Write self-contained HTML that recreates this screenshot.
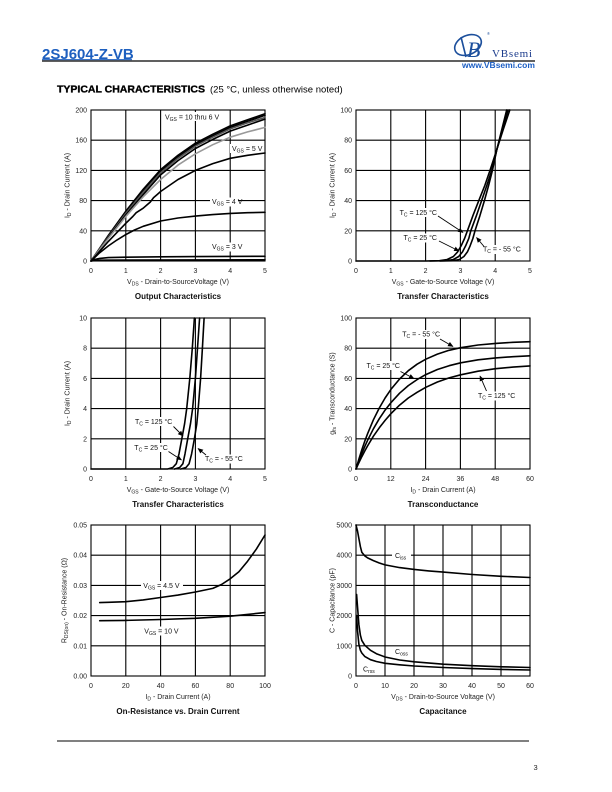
<!DOCTYPE html>
<html><head><meta charset="utf-8"><style>
html,body{margin:0;padding:0;background:#fff;}
svg{display:block;}
.t{font-family:"Liberation Sans",Arial,sans-serif;}
.g{fill:none;stroke:#000;stroke-width:1.1;}
.c{fill:none;stroke:#000;stroke-width:1.6;stroke-linejoin:round;stroke-linecap:round;}
.a{stroke:#000;stroke-width:0.9;fill:none;}
</style></head><body>
<svg width="612" height="792" viewBox="0 0 612 792" xmlns="http://www.w3.org/2000/svg" class="t" font-family="Liberation Sans, Arial, sans-serif">
<defs>
<marker id="ah" markerWidth="6" markerHeight="6" refX="5" refY="3" orient="auto" markerUnits="userSpaceOnUse"><path d="M0,0.6 L5.5,3 L0,5.4 z" fill="#000"/></marker>
</defs>
<rect width="612" height="792" fill="#fff"/>

<!-- Header -->
<text x="42" y="59" font-size="15" font-weight="bold" fill="#1d5fbf">2SJ604-Z-VB</text>
<line x1="42" y1="59.6" x2="132" y2="59.6" stroke="#1d5fbf" stroke-width="1"/>
<line x1="42" y1="61" x2="535" y2="61" stroke="#000" stroke-width="1.2"/>
<!-- logo -->
<ellipse cx="468" cy="45" rx="14" ry="9.5" transform="rotate(-25 468 45)" fill="none" stroke="#1c4f9c" stroke-width="1.6"/>
<line x1="461" y1="37" x2="466" y2="57" stroke="#1c4f9c" stroke-width="1.6"/>
<text x="467" y="57" font-family="Liberation Serif, serif" font-style="italic" font-size="22" fill="#1c4f9c">B</text>
<text x="487" y="35" font-size="4" fill="#1c4f9c">®</text>
<text x="492" y="57" font-family="Liberation Serif, serif" font-size="11" letter-spacing="0.8" fill="#1c3c8c">VBsemi</text>
<text x="462" y="68" font-size="8.5" font-weight="bold" fill="#1d5fc4">www.VBsemi.com</text>

<text x="57" y="92.5" font-size="10.5" font-weight="bold" stroke="#000" stroke-width="0.35" fill="#000">TYPICAL CHARACTERISTICS</text>
<text x="210" y="92.5" font-size="9.5" fill="#000">(25 °C, unless otherwise noted)</text>

<!-- ============ Chart 1: Output Characteristics ============ -->
<rect x="91" y="110" width="174" height="151" class="g" stroke-width="1.2"/>
<path class="g" d="M125.8 110V261M160.6 110V261M195.4 110V261M230.2 110V261M91 140.2H265M91 170.4H265M91 200.6H265M91 230.8H265"/>
<rect x="163" y="112" width="60" height="9" fill="#fff"/>
<rect x="230" y="144" width="34" height="9" fill="#fff"/>
<rect x="210" y="197.5" width="28" height="9" fill="#fff"/>
<rect x="210" y="242.5" width="28" height="9" fill="#fff"/>
<polyline class="c" points="91,261 99.7,248.2 108.4,235.3 125.8,211.2 143.2,189.3 160.6,169.6 178,155.3 195.4,143.2 212.8,134.2 230.2,125.9 247.6,119.8 265,113.8"/>
<polyline class="c" points="91,261 99.7,248.9 108.4,236.1 125.8,212.7 143.2,190.8 160.6,171.2 178,156.8 195.4,144.7 212.8,135.7 230.2,127.4 247.6,121.3 265,115.3"/>
<polyline class="c" stroke="#555" style="stroke:#555" points="91,261 99.7,248.9 108.4,236.8 125.8,213.4 143.2,192.3 160.6,172.7 178,158.3 195.4,146.2 212.8,137.2 230.2,128.9 247.6,122.8 265,117.5"/>
<polyline class="c" points="91,261 99.7,249.7 108.4,237.6 125.8,215.0 143.2,194.6 160.6,174.9 178,160.6 195.4,148.5 212.8,139.4 230.2,131.1 247.6,125.1 265,119.1"/>
<polyline class="c" style="stroke:#999" points="91,261 99.7,249.7 108.4,238.4 125.8,216.5 143.2,196.8 160.6,179.5 178,165.1 195.4,153.8 212.8,144.7 230.2,137.2 247.6,131.9 265,127.4"/>
<polyline class="c" points="91,261 99.7,251.2 108.4,241.4 117.1,232.3 125.8,223.3 132.8,216.5 136.2,212.7 139.7,210.4 143.2,208.2 146.7,205.1 150.2,202.1 153.6,197.6 157.1,194.6 160.6,191.5 178,179.5 195.4,170.4 212.8,163.6 230.2,158.3 247.6,155.3 265,153.0"/>
<polyline class="c" points="91,261 99.7,252.7 108.4,245.9 117.1,239.9 125.8,234.6 134.5,230.0 143.2,226.3 160.6,221.0 178,218.0 195.4,216.1 212.8,214.6 230.2,213.4 247.6,212.7 265,212.3"/>
<polyline class="c" points="91,261 94.5,259.5 99.7,258.4 108.4,257.6 125.8,257.2 160.6,256.8 195.4,256.6 265,256.3"/>
<polyline class="c" points="91,261 98,260.2 125.8,260 265,259.8"/>
<g font-size="7" fill="#111">
<text x="165" y="119.5">V<tspan font-size="5" dy="1.5">GS</tspan><tspan dy="-1.5"> = 10 thru 6 V</tspan></text>
<text x="232" y="150.8">V<tspan font-size="5" dy="1.5">GS</tspan><tspan dy="-1.5"> = 5 V</tspan></text>
<text x="212" y="204.2">V<tspan font-size="5" dy="1.5">GS</tspan><tspan dy="-1.5"> = 4 V</tspan></text>
<text x="212" y="249.2">V<tspan font-size="5" dy="1.5">GS</tspan><tspan dy="-1.5"> = 3 V</tspan></text>
</g>
<g font-size="7" fill="#222" text-anchor="end">
<text x="87" y="112.5">200</text><text x="87" y="142.7">160</text><text x="87" y="172.9">120</text><text x="87" y="203.1">80</text><text x="87" y="233.3">40</text><text x="87" y="263.5">0</text>
</g>
<g font-size="7" fill="#222" text-anchor="middle">
<text x="91" y="273">0</text><text x="125.8" y="273">1</text><text x="160.6" y="273">2</text><text x="195.4" y="273">3</text><text x="230.2" y="273">4</text><text x="265" y="273">5</text>
<text x="178" y="284">V<tspan font-size="5" dy="1.5">DS</tspan><tspan dy="-1.5"> - Drain-to-SourceVoltage (V)</tspan></text>
<text transform="translate(69.5,185.5) rotate(-90)">I<tspan font-size="5" dy="1.5">D</tspan><tspan dy="-1.5"> - Drain Current (A)</tspan></text>
</g>
<text x="178" y="299" font-size="8" font-weight="bold" text-anchor="middle" fill="#111">Output Characteristics</text>

<!-- ============ Chart 2: Transfer Characteristics (0-100A) ============ -->
<rect x="356" y="110" width="174" height="151" class="g" stroke-width="1.2"/>
<path class="g" d="M390.8 110V261M425.6 110V261M460.4 110V261M495.2 110V261M356 140.2H530M356 170.4H530M356 200.6H530M356 230.8H530"/>
<rect x="398" y="208" width="40" height="9" fill="#fff"/>
<rect x="402" y="233.5" width="36" height="9" fill="#fff"/>
<rect x="482" y="245" width="40" height="9" fill="#fff"/>
<polyline class="c" points="356,261 425.6,261 439.5,260.7 447.2,259.5 453.4,256.5 457.6,251.9 461.1,245.9 464.6,238.4 467.4,230.8 472.9,215.7 478.8,200.6 484.8,185.5 490.0,170.4 496.9,149.3 503.2,129.6 509.8,110"/>
<polyline class="c" points="430,261 446.5,260.7 453.4,259.5 458.7,256.5 462.5,251.9 465.6,245.9 468.8,238.4 470.8,230.8 476.4,215.7 481.6,200.6 486.8,185.5 491.7,170.4 496.9,149.3 502.5,129.6 508.1,110"/>
<polyline class="c" points="440,261 453.4,260.7 459.4,259.5 463.9,256.5 467.4,251.9 470.1,245.9 472.9,238.4 475.0,230.8 479.9,215.7 484.4,200.6 488.6,185.5 492.4,170.4 496.9,149.3 501.8,129.6 506.7,110"/>
<line class="a" x1="438" y1="216" x2="463" y2="232.5" marker-end="url(#ah)"/>
<line class="a" x1="439" y1="241" x2="459" y2="251" marker-end="url(#ah)"/>
<line class="a" x1="484" y1="246.5" x2="476.5" y2="237.5" marker-end="url(#ah)"/>
<g font-size="7" fill="#111">
<text x="437" y="214.8" text-anchor="end">T<tspan font-size="5" dy="1.5">C</tspan><tspan dy="-1.5"> = 125 °C</tspan></text>
<text x="437" y="240.2" text-anchor="end">T<tspan font-size="5" dy="1.5">C</tspan><tspan dy="-1.5"> = 25 °C</tspan></text>
<text x="483" y="251.5">T<tspan font-size="5" dy="1.5">C</tspan><tspan dy="-1.5"> = - 55 °C</tspan></text>
</g>
<g font-size="7" fill="#222" text-anchor="end">
<text x="352" y="112.5">100</text><text x="352" y="142.7">80</text><text x="352" y="172.9">60</text><text x="352" y="203.1">40</text><text x="352" y="233.3">20</text><text x="352" y="263.5">0</text>
</g>
<g font-size="7" fill="#222" text-anchor="middle">
<text x="356" y="273">0</text><text x="390.8" y="273">1</text><text x="425.6" y="273">2</text><text x="460.4" y="273">3</text><text x="495.2" y="273">4</text><text x="530" y="273">5</text>
<text x="443" y="284">V<tspan font-size="5" dy="1.5">GS</tspan><tspan dy="-1.5"> - Gate-to-Source Voltage (V)</tspan></text>
<text transform="translate(334.5,185.5) rotate(-90)">I<tspan font-size="5" dy="1.5">D</tspan><tspan dy="-1.5"> - Drain Current (A)</tspan></text>
</g>
<text x="443" y="299" font-size="8" font-weight="bold" text-anchor="middle" fill="#111">Transfer Characteristics</text>

<!-- ============ Chart 3: Transfer Characteristics (0-10A) ============ -->
<rect x="91" y="318" width="174" height="151" class="g" stroke-width="1.2"/>
<path class="g" d="M125.8 318V469M160.6 318V469M195.4 318V469M230.2 318V469M91 348.2H265M91 378.4H265M91 408.6H265M91 438.8H265"/>
<rect x="133" y="417" width="40" height="9" fill="#fff"/>
<rect x="132.5" y="443" width="36" height="9" fill="#fff"/>
<rect x="204" y="454.5" width="40" height="9" fill="#fff"/>
<polyline class="c" points="91,469 167.6,469 172.8,467.5 176.3,463.7 179.0,453.9 181.8,438.8 184.6,423.7 186.7,408.6 189.8,378.4 192.3,348.2 194.4,318"/>
<polyline class="c" points="174.5,469 179.7,467.5 182.9,463.7 185.0,453.9 187.7,438.8 190.5,423.7 192.6,408.6 195.4,378.4 197.5,348.2 199.6,318"/>
<polyline class="c" points="180.8,469 186.0,467.5 189.1,463.7 191.6,453.9 194.4,438.8 196.8,423.7 198.2,408.6 200.6,378.4 202.4,348.2 204.1,318"/>
<line class="a" x1="173.5" y1="426.5" x2="183" y2="436" marker-end="url(#ah)"/>
<line class="a" x1="168.5" y1="451.5" x2="181.5" y2="460" marker-end="url(#ah)"/>
<line class="a" x1="206" y1="455" x2="198" y2="448.5" marker-end="url(#ah)"/>
<g font-size="7" fill="#111">
<text x="135" y="423.8">T<tspan font-size="5" dy="1.5">C</tspan><tspan dy="-1.5"> = 125 °C</tspan></text>
<text x="134.3" y="449.8">T<tspan font-size="5" dy="1.5">C</tspan><tspan dy="-1.5"> = 25 °C</tspan></text>
<text x="205" y="461.2">T<tspan font-size="5" dy="1.5">C</tspan><tspan dy="-1.5"> = - 55 °C</tspan></text>
</g>
<g font-size="7" fill="#222" text-anchor="end">
<text x="87" y="320.5">10</text><text x="87" y="350.7">8</text><text x="87" y="380.9">6</text><text x="87" y="411.1">4</text><text x="87" y="441.3">2</text><text x="87" y="471.5">0</text>
</g>
<g font-size="7" fill="#222" text-anchor="middle">
<text x="91" y="481">0</text><text x="125.8" y="481">1</text><text x="160.6" y="481">2</text><text x="195.4" y="481">3</text><text x="230.2" y="481">4</text><text x="265" y="481">5</text>
<text x="178" y="492">V<tspan font-size="5" dy="1.5">GS</tspan><tspan dy="-1.5"> - Gate-to-Source Voltage (V)</tspan></text>
<text transform="translate(69.5,393.5) rotate(-90)">I<tspan font-size="5" dy="1.5">D</tspan><tspan dy="-1.5"> - Drain Current (A)</tspan></text>
</g>
<text x="178" y="507" font-size="8" font-weight="bold" text-anchor="middle" fill="#111">Transfer Characteristics</text>

<!-- ============ Chart 4: Transconductance ============ -->
<rect x="356" y="318" width="174" height="151" class="g" stroke-width="1.2"/>
<path class="g" d="M390.8 318V469M425.6 318V469M460.4 318V469M495.2 318V469M356 348.2H530M356 378.4H530M356 408.6H530M356 438.8H530"/>
<rect x="401" y="330" width="40" height="9" fill="#fff"/>
<rect x="365" y="361" width="36" height="9" fill="#fff"/>
<rect x="477" y="391.5" width="40" height="9" fill="#fff"/>
<polyline class="c" points="356,469 358.9,459.1 361.8,449.9 364.7,441.4 367.6,433.7 373.4,419.8 379.3,408.0 385.1,398.0 390.9,389.4 399.6,379.0 408.3,370.7 417.1,364.2 425.8,359.2 437.4,354.1 449.1,350.3 460.7,347.7 478.1,345.0 495.6,343.4 513.0,342.3 530,341.7"/>
<polyline class="c" points="356,469 358.9,461.0 361.8,453.6 364.7,446.7 367.6,440.3 373.4,428.8 379.3,418.7 385.1,410.1 390.9,402.7 399.6,393.2 408.3,385.6 417.1,379.6 425.8,374.6 437.4,369.5 449.1,365.7 460.7,362.8 478.1,359.8 495.6,357.9 513.0,356.7 530,355.8"/>
<polyline class="c" points="356,469 358.9,462.7 361.8,456.7 364.7,451.1 367.6,445.9 373.4,436.2 379.3,427.8 385.1,420.4 390.9,413.7 399.6,405.1 408.3,398.0 417.1,392.3 425.8,387.3 437.4,382.0 449.1,377.9 460.7,374.8 478.1,371.2 495.6,368.7 513.0,367.1 530,365.9"/>
<line class="a" x1="440" y1="339" x2="453" y2="346.5" marker-end="url(#ah)"/>
<line class="a" x1="400.5" y1="371.5" x2="414" y2="378.5" marker-end="url(#ah)"/>
<line class="a" x1="486.5" y1="391" x2="480" y2="376" marker-end="url(#ah)"/>
<g font-size="7" fill="#111">
<text x="440" y="336.5" text-anchor="end">T<tspan font-size="5" dy="1.5">C</tspan><tspan dy="-1.5"> = - 55 °C</tspan></text>
<text x="400" y="367.8" text-anchor="end">T<tspan font-size="5" dy="1.5">C</tspan><tspan dy="-1.5"> = 25 °C</tspan></text>
<text x="478" y="397.8">T<tspan font-size="5" dy="1.5">C</tspan><tspan dy="-1.5"> = 125 °C</tspan></text>
</g>
<g font-size="7" fill="#222" text-anchor="end">
<text x="352" y="320.5">100</text><text x="352" y="350.7">80</text><text x="352" y="380.9">60</text><text x="352" y="411.1">40</text><text x="352" y="441.3">20</text><text x="352" y="471.5">0</text>
</g>
<g font-size="7" fill="#222" text-anchor="middle">
<text x="356" y="481">0</text><text x="390.8" y="481">12</text><text x="425.6" y="481">24</text><text x="460.4" y="481">36</text><text x="495.2" y="481">48</text><text x="530" y="481">60</text>
<text x="443" y="492">I<tspan font-size="5" dy="1.5">D</tspan><tspan dy="-1.5"> - Drain Current (A)</tspan></text>
<text transform="translate(334.5,393.5) rotate(-90)">g<tspan font-size="5" dy="1.5">fs</tspan><tspan dy="-1.5"> - Transconductance (S)</tspan></text>
</g>
<text x="443" y="507" font-size="8" font-weight="bold" text-anchor="middle" fill="#111">Transconductance</text>

<!-- ============ Chart 5: On-Resistance ============ -->
<rect x="91" y="525" width="174" height="151" class="g" stroke-width="1.2"/>
<path class="g" d="M125.8 525V676M160.6 525V676M195.4 525V676M230.2 525V676M91 555.2H265M91 585.4H265M91 615.6H265M91 645.8H265"/>
<rect x="141" y="581" width="42" height="9" fill="#fff"/>
<rect x="142" y="626.5" width="39" height="9" fill="#fff"/>
<polyline class="c" points="99.7,602.6 108.4,602.3 125.8,601.7 143.2,599.9 160.6,597.5 178,595.1 195.4,592.0 212.8,588.4 221.5,584.5 230.2,578.8 238.9,571.8 247.6,561.2 256.3,549.2 265,535.0"/>
<polyline class="c" points="99.7,620.7 125.8,620.4 160.6,619.5 195.4,618.3 230.2,616.2 265,612.6"/>
<g font-size="7" fill="#111">
<text x="143.3" y="588.2">V<tspan font-size="5" dy="1.5">GS</tspan><tspan dy="-1.5"> = 4.5 V</tspan></text>
<text x="144.3" y="633.5">V<tspan font-size="5" dy="1.5">GS</tspan><tspan dy="-1.5"> = 10 V</tspan></text>
</g>
<g font-size="7" fill="#222" text-anchor="end">
<text x="87" y="527.5">0.05</text><text x="87" y="557.7">0.04</text><text x="87" y="587.9">0.03</text><text x="87" y="618.1">0.02</text><text x="87" y="648.3">0.01</text><text x="87" y="678.5">0.00</text>
</g>
<g font-size="7" fill="#222" text-anchor="middle">
<text x="91" y="688">0</text><text x="125.8" y="688">20</text><text x="160.6" y="688">40</text><text x="195.4" y="688">60</text><text x="230.2" y="688">80</text><text x="265" y="688">100</text>
<text x="178" y="699">I<tspan font-size="5" dy="1.5">D</tspan><tspan dy="-1.5"> - Drain Current (A)</tspan></text>
<text transform="translate(66.5,600.5) rotate(-90)">R<tspan font-size="5" dy="1.5">DS(on)</tspan><tspan dy="-1.5"> - On-Resistance (Ω)</tspan></text>
</g>
<text x="178" y="714" font-size="8" font-weight="bold" text-anchor="middle" fill="#111">On-Resistance vs. Drain Current</text>

<!-- ============ Chart 6: Capacitance ============ -->
<rect x="356" y="525" width="174" height="151" class="g" stroke-width="1.2"/>
<path class="g" d="M385 525V676M414 525V676M443 525V676M472 525V676M501 525V676M356 555.2H530M356 585.4H530M356 615.6H530M356 645.8H530"/>
<rect x="392" y="551" width="19" height="9" fill="#fff"/>
<polyline class="c" points="356,525 357.5,531.0 358.9,538.6 360.4,546.7 361.8,552.2 364.7,555.8 367.6,557.9 373.4,560.6 379.3,563.0 385.1,564.9 399.6,567.6 414.2,569.4 428.7,570.9 443.2,572.1 472.3,574.5 501.4,576.3 530,577.5"/>
<polyline class="c" points="356.6,594.5 357.5,606.5 358.9,624.7 360.4,635.2 361.8,640.4 364.7,645.2 370.5,650.3 376.4,653.7 385.1,657.0 399.6,660.0 414.2,661.8 443.2,664.2 472.3,665.7 501.4,666.8 530,667.5"/>
<polyline class="c" points="356.6,615.6 357.5,630.7 358.9,644.3 360.4,650.3 361.8,653.0 364.7,656.4 370.5,659.7 376.4,661.5 385.1,663.3 399.6,664.8 414.2,666.0 443.2,667.5 472.3,668.6 501.4,669.4 530,670.0"/>
<g font-size="7" fill="#111">
<text x="395" y="558">C<tspan font-size="5" dy="1.5">iss</tspan></text>
<text x="395" y="654">C<tspan font-size="5" dy="1.5">oss</tspan></text>
<text x="363" y="671.5">C<tspan font-size="5" dy="1.5">rss</tspan></text>
</g>
<g font-size="7" fill="#222" text-anchor="end">
<text x="352" y="527.5">5000</text><text x="352" y="557.7">4000</text><text x="352" y="587.9">3000</text><text x="352" y="618.1">2000</text><text x="352" y="648.3">1000</text><text x="352" y="678.5">0</text>
</g>
<g font-size="7" fill="#222" text-anchor="middle">
<text x="356" y="688">0</text><text x="385" y="688">10</text><text x="414" y="688">20</text><text x="443" y="688">30</text><text x="472" y="688">40</text><text x="501" y="688">50</text><text x="530" y="688">60</text>
<text x="443" y="699">V<tspan font-size="5" dy="1.5">DS</tspan><tspan dy="-1.5"> - Drain-to-Source Voltage (V)</tspan></text>
<text transform="translate(334.5,600.5) rotate(-90)">C - Capacitance (pF)</text>
</g>
<text x="443" y="714" font-size="8" font-weight="bold" text-anchor="middle" fill="#111">Capacitance</text>

<!-- Footer -->
<line x1="57" y1="741" x2="529" y2="741" stroke="#000" stroke-width="1"/>
<text x="533.5" y="770" font-size="7.5" fill="#222">3</text>
</svg>
</body></html>
